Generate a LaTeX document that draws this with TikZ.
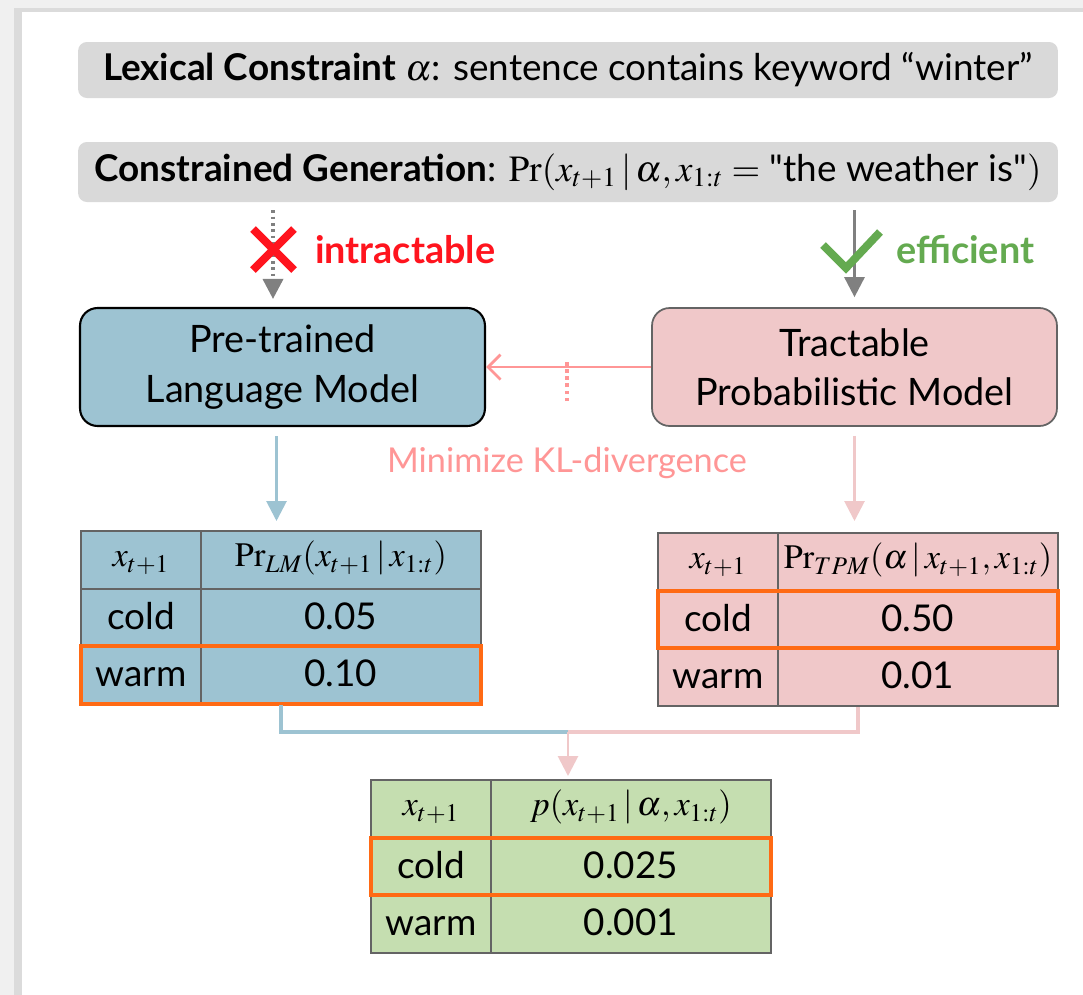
\documentclass[tikz,border=0pt]{standalone}
\usepackage{mathptmx}
\usepackage[no-math]{fontspec}
\setmainfont{Lato}
\setsansfont{Lato}
\usetikzlibrary{positioning, matrix, arrows.meta}
\definecolor{bargray}{RGB}{217,217,217}
\definecolor{lmblue}{RGB}{157,195,210}
\definecolor{tpmpink}{RGB}{240,200,201}
\definecolor{resgreen}{RGB}{197,222,176}
\definecolor{klpink}{RGB}{255,150,150}
\definecolor{hlorange}{RGB}{255,106,20}
\definecolor{gridgray}{RGB}{100,100,100}
\definecolor{arrowgray}{RGB}{128,128,128}
\definecolor{nored}{RGB}{255,20,30}
\definecolor{okgreen}{RGB}{100,170,80}
\tikzset{
    banner/.style={ % grey bars on top
        rectangle, rounded corners=5pt, fill=bargray,
        minimum width=19.6cm, inner sep=0pt,
        font=\fontsize{21}{25}\selectfont
    },
    model/.style={ % the two model boxes
        rectangle, rounded corners=10pt, align=center,
        minimum width=8.1cm, minimum height=2.36cm,
        font=\fontsize{21.5}{28}\selectfont
    },
    probtab/.style={ % small probability tables
        matrix of nodes, inner sep=0pt, outer sep=0pt,
        row sep=-1.1pt, column sep=-1.1pt,
        nodes={draw=gridgray, line width=1.1pt, inner sep=0pt,
               minimum height=1.155cm, anchor=center,
               text height=16pt, text depth=3pt,
               font=\fontsize{21}{25}\selectfont},
        row 1/.style={nodes={font=\fontsize{19.5}{23}\selectfont,
                             text height=13pt, text depth=5pt}},
        column 1/.style={nodes={minimum width=2.4cm}},
        column 2/.style={nodes={minimum width=5.6cm}}
    },
    highlight/.style={draw=hlorange, line width=2.3pt},
    flow/.style={-{Triangle[length=0.4cm,width=0.4cm]}, line width=1.6pt},
    verdict/.style={font=\bfseries\fontsize{21.5}{25}\selectfont, anchor=west}
}

\begin{document}
\begin{tikzpicture}[x=0.02cm, y=-0.02cm]
    \useasboundingbox (0,0) rectangle (1083,995);
    % frame
    \fill[black!6] (0,0) rectangle (1083,995);
    \fill[black!14] (14,8) rectangle (1083,995);
    \fill[white] (22,12) rectangle (1083,995);

    % kopfzeilen
    \node[banner, minimum height=1.12cm]    (lex)   at (568,70)
        {\textbf{Lexical Constraint} $\alpha$: sentence contains keyword ``winter''};
    \node[banner, minimum height=1.2cm]     (gen)   at (568,172)
        {\textbf{Constrained Generation}: $\Pr(x_{t+1}\,|\,\alpha, x_{1:t} =$
         \textquotedbl the weather is\textquotedbl$)$};

    % modelle
    \node[model, draw=black, line width=1.2pt, fill=lmblue]  (lm)  at (282.5,367)
        {Pre-trained\\Language Model};
    \node[model, draw=gridgray, line width=1pt, fill=tpmpink] (tpm) at (854.5,367)
        {Tractable\\Probabilistic Model};
    \node[font=\fontsize{19.5}{23}\selectfont, text=klpink]  (kl)  at (567,463)
        {Minimize KL-divergence};

    % tabellen
    \matrix (lmtab) [probtab, anchor=north west, nodes={fill=lmblue}] at (80,530) {
        $x_{t+1}$ & $\Pr_{LM}(x_{t+1}\,|\,x_{1:t})$ \\
        cold      & 0.05 \\
        warm      & 0.10 \\
    };
    \matrix (tpmtab) [probtab, anchor=north west, nodes={fill=tpmpink}] at (657,532) {
        $x_{t+1}$ & $\Pr_{TPM}(\alpha\,|\,x_{t+1}, x_{1:t})$ \\
        cold      & 0.50 \\
        warm      & 0.01 \\
    };
    \matrix (restab) [probtab, anchor=north west, nodes={fill=resgreen}] at (370,779) {
        $x_{t+1}$ & $p(x_{t+1}\,|\,\alpha, x_{1:t})$ \\
        cold      & 0.025 \\
        warm      & 0.001 \\
    };
    \draw[highlight] (lmtab-3-1.north west)  rectangle (lmtab-3-2.south east);
    \draw[highlight] (tpmtab-2-1.north west) rectangle (tpmtab-2-2.south east);
    \draw[highlight] (restab-2-1.north west) rectangle (restab-2-2.south east);

    % pfeile oben
    \draw[flow, arrowgray, dotted, line width=2pt, shorten <=0.16cm, shorten >=0.16cm]
        ([xshift=-0.19cm]gen.south -| lm.north) -- ([xshift=-0.19cm]lm.north);
    \draw[flow, arrowgray, shorten <=0.16cm, shorten >=0.2cm]
        (gen.south -| tpm.north) -- (tpm.north);
    \draw[nored, line width=4.5pt] (253,229) -- (294,270) (294,229) -- (253,270);
    \node[verdict, text=nored]   (bad)  at (309,250) {intractable};
    \draw[okgreen, line width=4.5pt] (823,245) -- (846,268) -- (880,232);
    \node[verdict, text=okgreen] (good) at (890,250) {efficient};

    % kl
    \draw[-{Straight Barb[length=0.25cm,width=0.5cm]}, klpink, line width=1.6pt]
        (tpm.west) -- (lm.east);
    \draw[klpink, dotted, line width=2pt] ([yshift=0.8cm]kl.north) -- ++(0,-42);

    % pfeile zu den tabellen
    \draw[flow, lmblue, shorten <=0.18cm, shorten >=0.18cm]
        ([xshift=-0.12cm]lm.south) -- ([xshift=-0.12cm]lm.south |- lmtab.north);
    \draw[flow, tpmpink, shorten <=0.18cm, shorten >=0.22cm]
        (tpm.south) -- (tpm.south |- tpmtab.north);

    % zusammenfuehren
    \coordinate (merge) at (568,732);
    \draw[lmblue, line width=2pt]  (lmtab.south)  |- (merge);
    \draw[tpmpink, line width=2pt] (tpmtab.south) |- (merge);
    \draw[flow, tpmpink, shorten >=0.06cm] (merge) -- (merge |- restab.north);
\end{tikzpicture}
\end{document}
